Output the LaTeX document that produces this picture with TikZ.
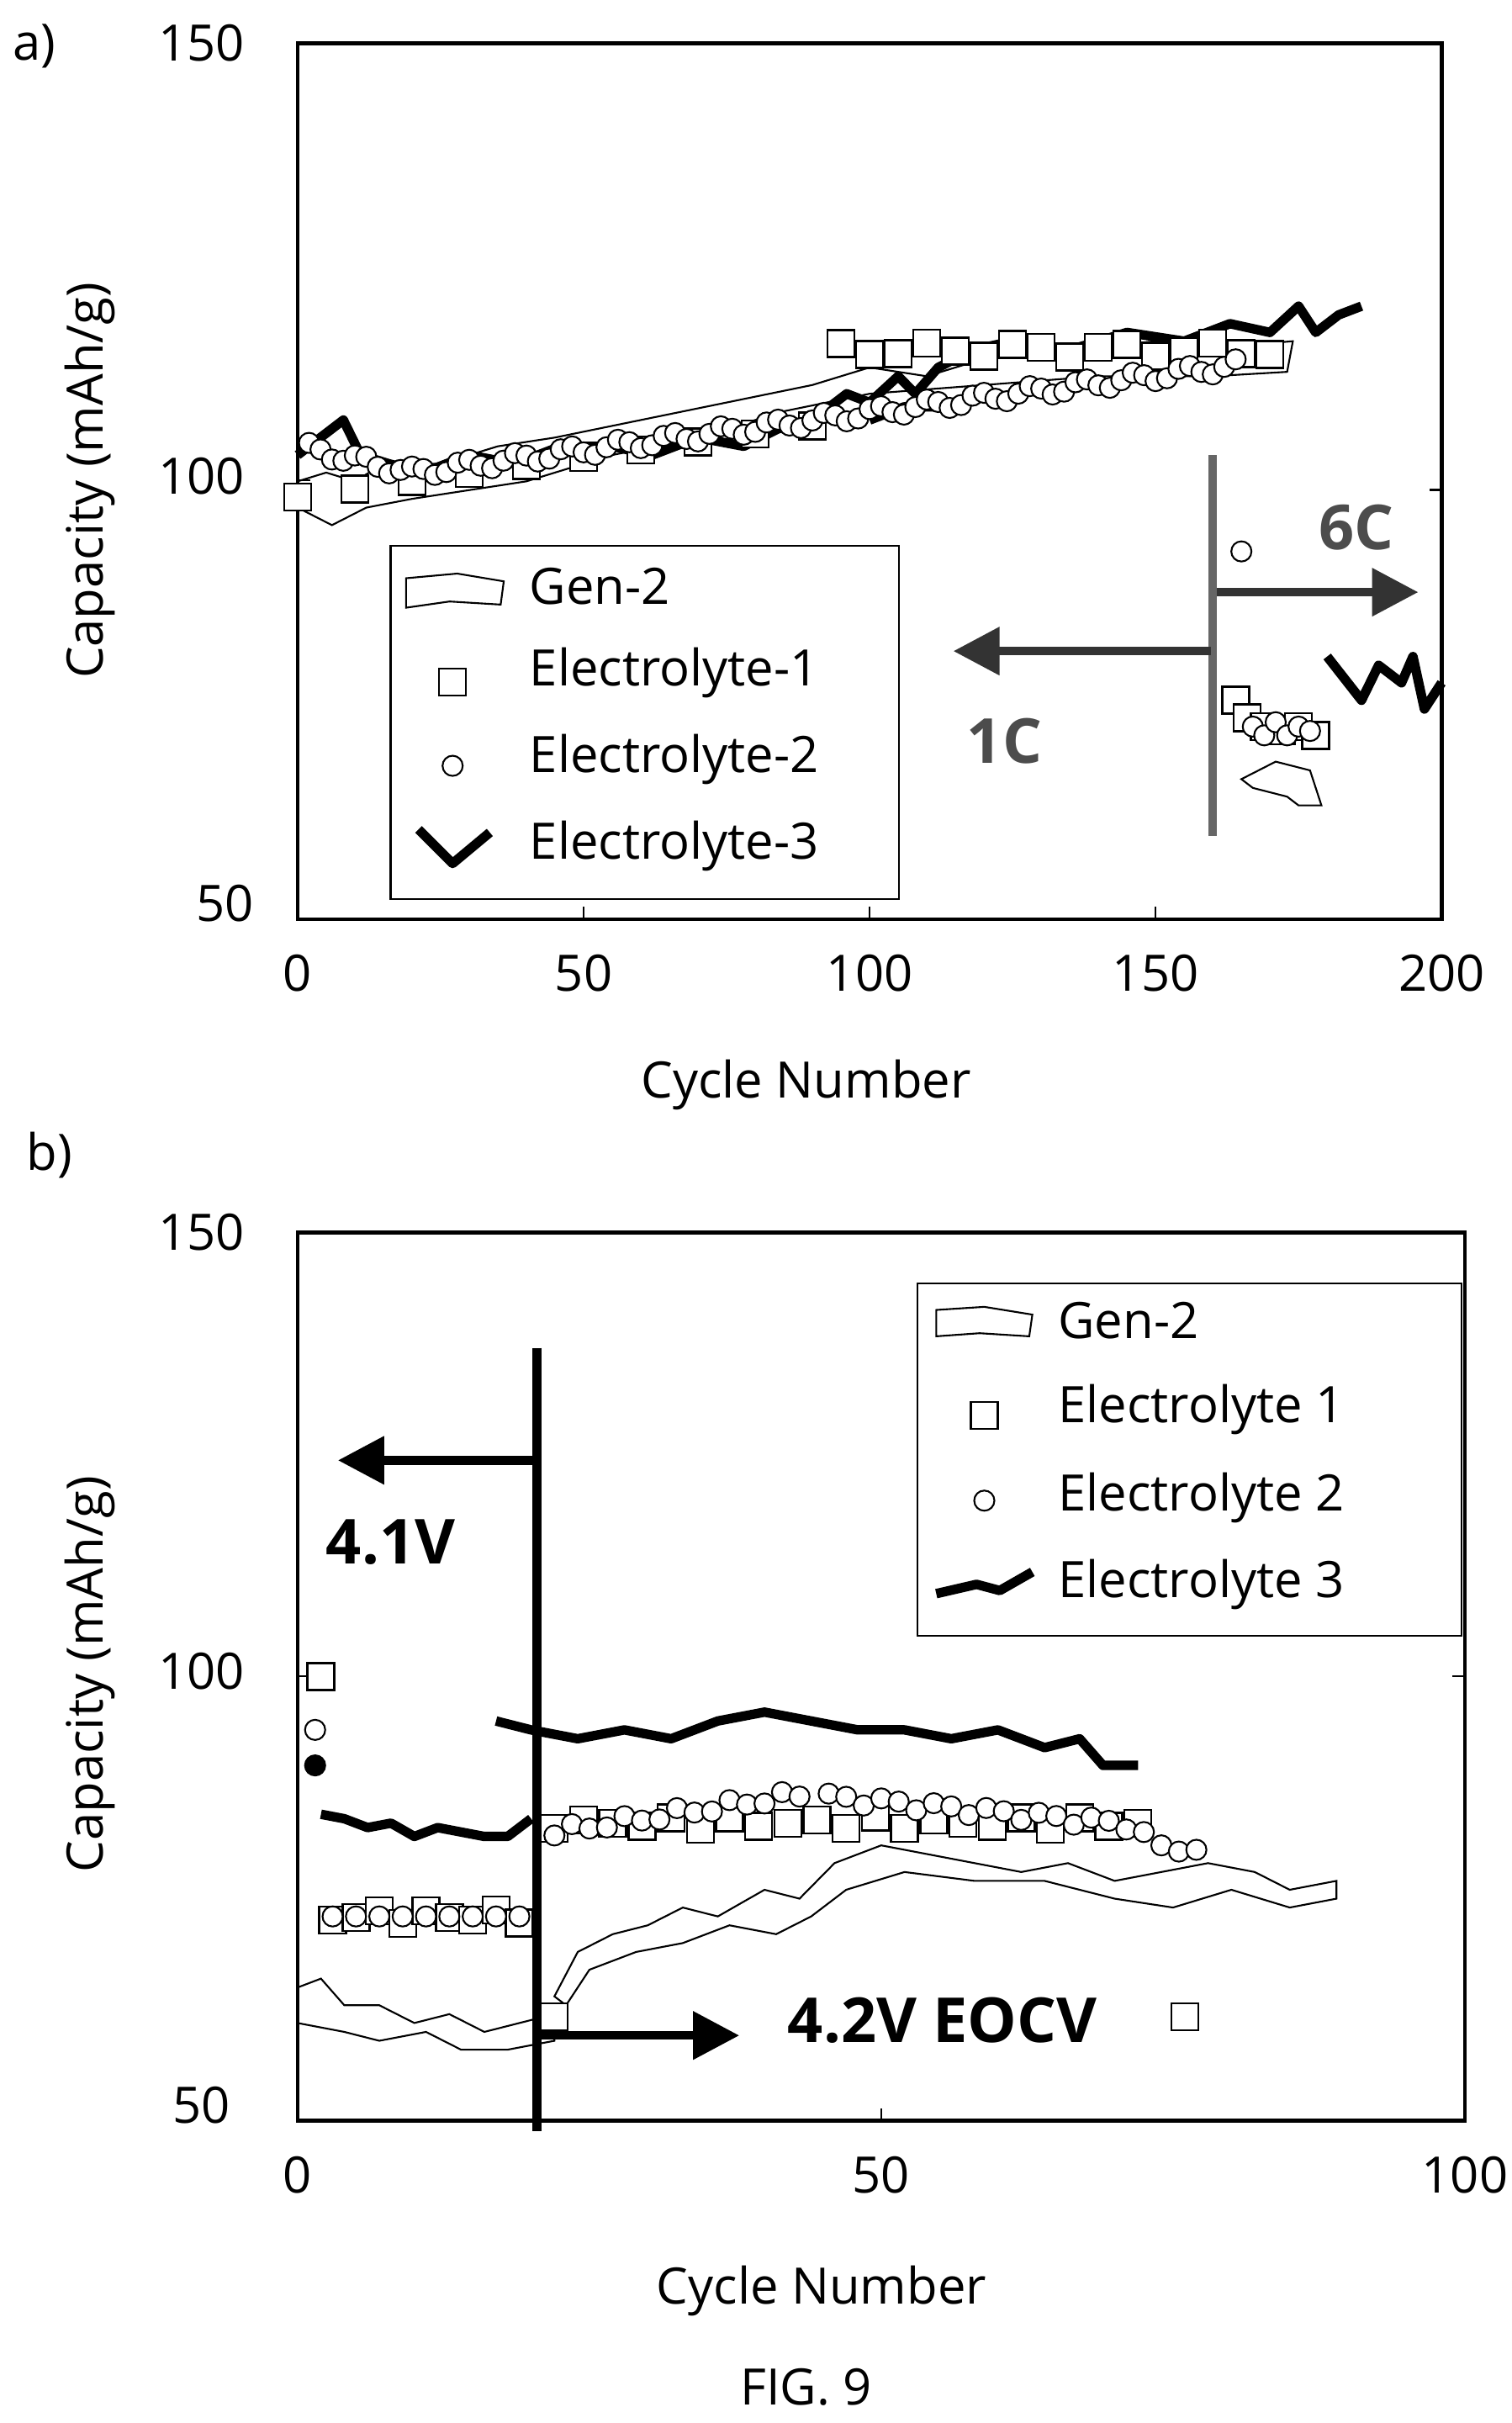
\documentclass[tikz,border=0pt]{standalone}
\usepackage{fontspec}
\setmainfont{Open Sans}
\usetikzlibrary{arrows.meta}
\begin{document}
\begin{tikzpicture}[x=0.01843cm,y=-0.01843cm,
  lab/.style={font=\fontsize{17}{20}\selectfont},
  sq/.style={draw,line width=0.7pt,minimum size=0.32cm,inner sep=0pt,fill=white},
  ci/.style={draw,circle,line width=0.6pt,minimum size=0.24cm,inner sep=0pt,fill=white},
  thin/.style={line width=0.6pt},
  thk/.style={line width=3.2pt,line join=round},
  axbox/.style={line width=1.3pt},
  arr/.style={line width=3pt,-{Triangle[length=0.55cm,width=0.55cm]}},
  big/.style={font=\bfseries\fontsize{21}{25}\selectfont}]
\useasboundingbox (0,0) rectangle (975,1563);
% ================= panel a =================
\node[lab] (la) at (22,30) {a)};
\draw[axbox] (192,28) rectangle (930,593);
\foreach \c/\t in {0/0,50/50,100/100,150/150,200/200}{
  \node[lab] (xa\t) at ({192+\c*3.69},628) {\t};
  \draw[thin] ({192+\c*3.69},593) -- ++(0,-8);}
\node[lab] (ya150) at (130,28) {150};
\node[lab] (ya100) at (130,307) {100};
\node[lab] (ya50) at (145,583) {50};
\draw[thin] (192,310)--++(8,0); \draw[thin] (930,316)--++(-8,0);
\node[lab] (xta) at (520,700) {Cycle Number};
\node[lab,rotate=90] (yta) at (58,310) {Capacity (mAh/g)};
\begin{scope}[shift={(192,593)},xscale=3.69,yscale=-5.65]
 \draw[thin] (0,{100-50}) -- (5,{101-50}) -- (10,{100-50}) -- (15,{102-50}) -- (25,{102-50}) -- (35,{104-50}) -- (45,{105-50}) -- (60,{107-50}) -- (75,{109-50}) -- (90,{111-50}) -- (100,{113-50}) -- (110,{112-50}) -- (120,{114-50}) -- (135,{115-50}) -- (150,{116-50}) -- (165,{115.5-50}) -- (174,{116-50}) -- (173,{112.5-50}) -- (160,{112-50}) -- (140,{112-50}) -- (120,{111-50}) -- (100,{110-50}) -- (85,{108-50}) -- (70,{105-50}) -- (55,{103-50}) -- (40,{100-50}) -- (30,{99-50}) -- (20,{98-50}) -- (12,{97-50}) -- (6,{95-50}) -- (3,{96-50}) -- (0,{97-50}) -- cycle;
 \draw[thin] (165,{66-50}) -- (171,{68-50}) -- (177,{67-50}) -- (179,{63-50}) -- (175,{63-50}) -- (173,{64-50}) -- (167,{65-50}) -- cycle;
 \draw[thk] (0,{103-50}) -- (4,{105-50}) -- (8,{107-50}) -- (11,{103-50}) -- (16,{102-50}) -- (22,{101-50}) -- (30,{103-50}) -- (38,{102-50}) -- (46,{104-50}) -- (55,{104-50}) -- (62,{103-50}) -- (70,{105-50}) -- (78,{104-50}) -- (84,{106-50}) -- (90,{107-50}) -- (96,{110-50}) -- (100,{109-50}) -- (105,{112-50}) -- (108,{110-50}) -- (112,{113-50}) -- (118,{115-50}) -- (125,{116-50}) -- (135,{115-50}) -- (145,{117-50}) -- (155,{116-50}) -- (163,{118-50}) -- (170,{117-50}) -- (175,{120-50}) -- (178,{117-50}) -- (182,{119-50}) -- (186,{120-50});
 \draw[thk] (100,{107-50}) -- (106,{108.5-50}) -- (113,{108.5-50});
 \draw[thk] (180,{80-50}) -- (186,{75-50}) -- (189,{79-50}) -- (193,{77-50}) -- (195,{80-50}) -- (197,{74-50}) -- (200,{77-50});
 \foreach \c in {0,10,...,90}{ \pgfmathsetmacro\v{100+0.09*(\c-20)-50} \node[sq] at (\c,\v) {};}
 \foreach \c in {95,100,...,170}{ \pgfmathsetmacro\v{115+0.8*sin(\c*50)-50} \node[sq] at (\c,\v) {};}
 \foreach \c/\v in {164/75,166/73,169/72,172/71.5,175/72,178/71}{ \node[sq] at (\c,{\v-50}) {};}
 \foreach \c in {2,4,...,18}{ \pgfmathsetmacro\v{104-0.15*\c+0.7*sin(\c*40)-50} \node[ci] at (\c,\v) {};}
 \foreach \c in {20,22,...,164}{ \pgfmathsetmacro\v{101+0.085*(\c-20)+0.7*sin(\c*40)-50} \node[ci] at (\c,\v) {};}
 \node[ci] at (165,{92-50}) {};
 \foreach \c/\v in {167/72,169/71,171/72.5,173/71,175/72,177/71.5}{ \node[ci] at (\c,{\v-50}) {};}
 \coordinate (va1) at (160,{103-50}); \coordinate (va2) at (160,{59.5-50});
\end{scope}
\draw[line width=3pt,gray!80!black] (va1) -- (va2);
\coordinate (aL0) at (781,420); \coordinate (aL1) at (615,420);
\coordinate (aR0) at (785,382); \coordinate (aR1) at (915,382);
\draw[arr,black!80] (aL0) -- (aL1);
\draw[arr,black!80] (aR0) -- (aR1);
\node[big,black!70] (c1) at (648,478) {1C};
\node[big,black!70] (c6) at (875,340) {6C};
\draw[thin] (252,352) rectangle (580,580);
\draw[thin] (262,373) -- (295,370) -- (325,375) -- (323,390) -- (290,388) -- (262,392) -- cycle;
\node[sq] at (292,440) {};
\node[ci] at (292,494) {};
\draw[thk] (270,535) -- (292,557) -- (316,537);
\node[lab,anchor=west] (g1) at (335,378) {Gen-2};
\node[lab,anchor=west] (g2) at (335,434) {Electrolyte-1};
\node[lab,anchor=west] (g3) at (335,490) {Electrolyte-2};
\node[lab,anchor=west] (g4) at (335,546) {Electrolyte-3};
% ================= panel b =================
\node[lab] (lb) at (32,745) {b)};
\draw[axbox] (192,795) rectangle (945,1368);
\foreach \c/\t in {0/0,50/50,100/100}{
  \node[lab] (xb\t) at ({192+\c*7.53},1403) {\t};
  \draw[thin] ({192+\c*7.53},1368) -- ++(0,-8);}
\node[lab] (yb150) at (130,795) {150};
\node[lab] (yb100) at (130,1078) {100};
\node[lab] (yb50) at (130,1358) {50};
\draw[thin] (192,1081)--++(8,0); \draw[thin] (945,1081)--++(-8,0);
\node[lab] (xtb) at (530,1478) {Cycle Number};
\node[lab,rotate=90] (ytb) at (58,1080) {Capacity (mAh/g)};
\node[lab] (fig) at (520,1540) {FIG. 9};
\begin{scope}[shift={(192,1368)},xscale=7.53,yscale=-5.73]
 \draw[thin] (0,{65-50}) -- (2,{66-50}) -- (4,{63-50}) -- (7,{63-50}) -- (10,{61-50}) -- (13,{62-50}) -- (16,{60-50}) -- (19,{61-50}) -- (22,{62-50}) -- (22,{59-50}) -- (18,{58-50}) -- (14,{58-50}) -- (11,{60-50}) -- (7,{59-50}) -- (4,{60-50}) -- (0,{61-50}) -- cycle;
 \draw[thin] (22,{64-50}) -- (24,{69-50}) -- (27,{71-50}) -- (30,{72-50}) -- (33,{74-50}) -- (36,{73-50}) -- (40,{76-50}) -- (43,{75-50}) -- (46,{79-50}) -- (50,{81-50}) -- (54,{80-50}) -- (58,{79-50}) -- (62,{78-50}) -- (66,{79-50}) -- (70,{77-50}) -- (74,{78-50}) -- (78,{79-50}) -- (82,{78-50}) -- (85,{76-50}) -- (89,{77-50}) -- (89,{75-50}) -- (85,{74-50}) -- (80,{76-50}) -- (75,{74-50}) -- (70,{75-50}) -- (64,{77-50}) -- (58,{77-50}) -- (52,{78-50}) -- (47,{76-50}) -- (44,{73-50}) -- (41,{71-50}) -- (37,{72-50}) -- (33,{70-50}) -- (29,{69-50}) -- (25,{67-50}) -- (23,{63-50}) -- cycle;
 \draw[thk] (2,{84.5-50}) -- (4,{84-50}) -- (6,{83-50}) -- (8,{83.5-50}) -- (10,{82-50}) -- (12,{83-50}) -- (14,{82.5-50}) -- (16,{82-50}) -- (18,{82-50}) -- (20,{84-50});
 \draw[thk] (17,{95-50}) -- (20,{94-50}) -- (24,{93-50}) -- (28,{94-50}) -- (32,{93-50}) -- (36,{95-50}) -- (40,{96-50}) -- (44,{95-50}) -- (48,{94-50}) -- (52,{94-50}) -- (56,{93-50}) -- (60,{94-50}) -- (64,{92-50}) -- (67,{93-50}) -- (69,{90-50}) -- (72,{90-50});
 \foreach \c in {3,5,...,19}{ \pgfmathsetmacro\v{73+0.8*sin(\c*70)-50} \node[sq] at (\c,\v) {};}
 \foreach \c in {22,24.5,...,72}{ \pgfmathsetmacro\v{83.5+0.7*sin(\c*60)-50} \node[sq] at (\c,\v) {};}
 \node[sq] at (2,{100-50}) {};
 \node[sq] at (22,{61.7-50}) {};
 \node[sq] at (76,{61.7-50}) {};
 \foreach \c in {3,5,...,19}{ \pgfmathsetmacro\v{73-0.3*cos(\c*90)-50} \node[ci] at (\c,\v) {};}
 \foreach \c in {22,23.5,...,44}{ \pgfmathsetmacro\v{82.5+0.2*(\c-22)+0.6*sin(\c*80)-50} \node[ci] at (\c,\v) {};}
 \foreach \c in {45.5,47,...,71}{ \pgfmathsetmacro\v{86.5-0.12*(\c-45)+0.6*sin(\c*80)-50} \node[ci] at (\c,\v) {};}
 \foreach \c/\v in {72.5/82.5,74/81,75.5/80.3,77/80.5}{ \node[ci] at (\c,{\v-50}) {};}
 \node[ci] at (1.5,{94-50}) {};
 \node[ci,fill=black] at (1.5,{90-50}) {};
 \coordinate (vb1) at (20.5,{137-50}); \coordinate (vb2) at (20.5,{48.8-50});
\end{scope}
\draw[line width=3pt] (vb1) -- (vb2);
\coordinate (bL0) at (345,942); \coordinate (bL1) at (218,942);
\coordinate (bR0) at (345,1313); \coordinate (bR1) at (477,1313);
\draw[arr] (bL0) -- (bL1);
\draw[arr] (bR0) -- (bR1);
\node[big] (v41) at (252,995) {4.1V};
\node[big] (v42) at (608,1303) {4.2V EOCV};
\draw[thin] (592,828) rectangle (943,1055);
\draw[thin] (604,845) -- (635,843) -- (666,848) -- (664,862) -- (632,860) -- (604,862) -- cycle;
\node[sq] at (635,913) {};
\node[ci] at (635,968) {};
\draw[thk] (604,1028) -- (630,1022) -- (645,1026) -- (666,1014);
\node[lab,anchor=west] (h1) at (676,852) {Gen-2};
\node[lab,anchor=west] (h2) at (676,909) {Electrolyte 1};
\node[lab,anchor=west] (h3) at (676,966) {Electrolyte 2};
\node[lab,anchor=west] (h4) at (676,1022) {Electrolyte 3};
\end{tikzpicture}
\end{document}
